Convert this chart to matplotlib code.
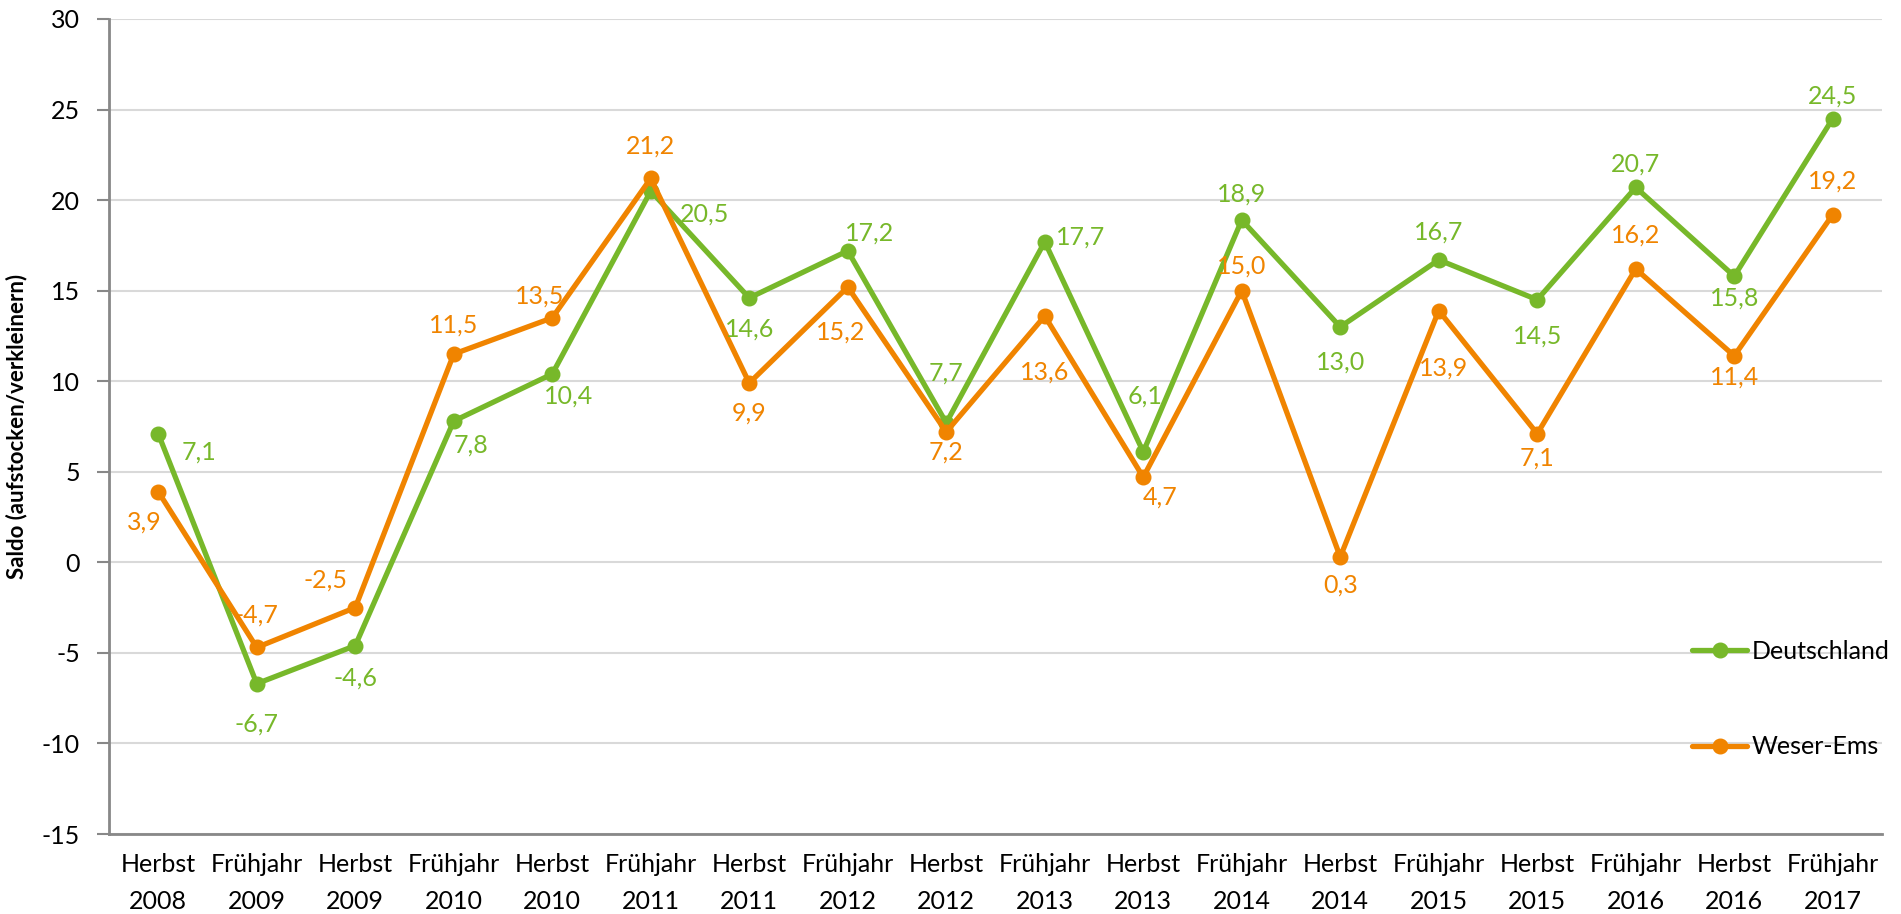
import matplotlib
matplotlib.use("Agg")
import matplotlib.pyplot as plt

plt.rcParams['font.family'] = ['Lato', 'DejaVu Sans']
plt.rcParams['axes.unicode_minus'] = False

# Befragungszeitpunkte
perioden = ["Herbst\n2008", "Frühjahr\n2009", "Herbst\n2009", "Frühjahr\n2010",
            "Herbst\n2010", "Frühjahr\n2011", "Herbst\n2011", "Frühjahr\n2012",
            "Herbst\n2012", "Frühjahr\n2013", "Herbst\n2013", "Frühjahr\n2014",
            "Herbst\n2014", "Frühjahr\n2015", "Herbst\n2015", "Frühjahr\n2016",
            "Herbst\n2016", "Frühjahr\n2017"]

# Saldo aufstocken/verkleinern
deutschland = [7.1, -6.7, -4.6, 7.8, 10.4, 20.5, 14.6, 17.2, 7.7,
               17.7, 6.1, 18.9, 13.0, 16.7, 14.5, 20.7, 15.8, 24.5]
weser_ems = [3.9, -4.7, -2.5, 11.5, 13.5, 21.2, 9.9, 15.2, 7.2,
             13.6, 4.7, 15.0, 0.3, 13.9, 7.1, 16.2, 11.4, 19.2]

# Lage der Datenbeschriftungen (Pixel relativ zum Punkt)
offsets_de = [(41, -18), (0, -40), (0, -32), (17, -24), (16, -22), (54, -23),
              (0, -31), (22, 18), (0, 50), (36, 5), (2, 56), (0, 26),
              (0, -35), (0, 28), (0, -36), (0, 23), (0, -22), (0, 23)]
offsets_we = [(-14, -30), (0, 32), (-30, 28), (0, 29), (-13, 22), (0, 32),
              (0, -30), (-7, -45), (0, -20), (0, -56), (17, -20), (0, 25),
              (0, -28), (5, -57), (0, -24), (0, 34), (0, -21), (0, 34)]

GRUEN = '#77B82A'
ORANGE = '#F08400'
GRAU = '#888888'
FS = 18

fig = plt.figure(figsize=(19.01, 9.14), dpi=100)
ax = fig.add_axes([109 / 1901, 80 / 914, 1773 / 1901, 815 / 914])

x = list(range(len(perioden)))
reihen = [("Deutschland", deutschland, GRUEN, offsets_de),
          ("Weser-Ems", weser_ems, ORANGE, offsets_we)]

for name, werte, farbe, offs in reihen:
    ax.plot(x, werte, color=farbe, lw=3.8, marker='o', markersize=10.5,
            solid_capstyle='round', solid_joinstyle='round', label=name, zorder=3)
    for xi, v, (dx, dy) in zip(x, werte, offs):
        ax.annotate(f"{v:.1f}".replace('.', ','), (xi, v), xytext=(dx, dy),
                    textcoords='offset pixels', ha='center', va='center',
                    color=farbe, fontsize=FS, zorder=4)

ax.set_xlim(-0.5, len(perioden) - 0.5)
ax.set_ylim(-15, 30)
ax.set_yticks(range(-15, 31, 5))
ax.set_xticks(x)
ax.set_xticklabels(perioden, fontsize=FS, linespacing=1.7)
ax.tick_params(axis='y', labelsize=FS, length=9, width=1.5, color=GRAU, pad=12)
ax.tick_params(axis='x', length=0, pad=14)

ax.grid(axis='y', color='#D9D9D9', lw=1.5, zorder=0)
ax.set_axisbelow(True)
for s in ['top', 'right']:
    ax.spines[s].set_visible(False)
for s in ['left', 'bottom']:
    ax.spines[s].set_color(GRAU)
    ax.spines[s].set_linewidth(2)

ax.set_ylabel("Saldo (aufstocken/verkleinern)", fontsize=16, fontweight='bold')
ax.yaxis.set_label_coords(-0.046, 0.5)

ax.legend(loc='upper left', bbox_to_anchor=(1692 / 1901, (914 - 640) / 914),
          bbox_transform=fig.transFigure, frameon=False, fontsize=FS,
          handlelength=2.2, handletextpad=0.18, labelspacing=2.9,
          borderpad=0, borderaxespad=0)

fig.savefig("out.png", dpi=100)
